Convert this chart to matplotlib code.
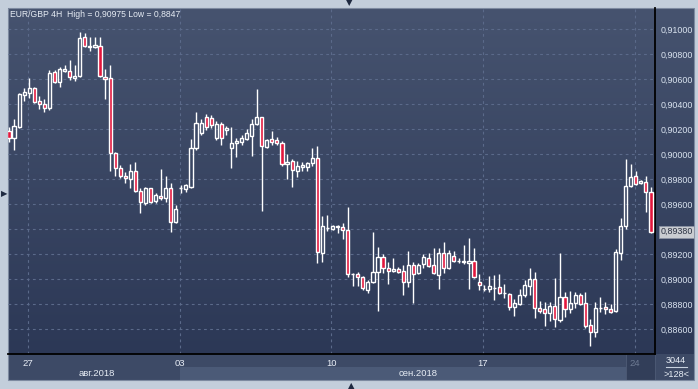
import numpy as np
import matplotlib
matplotlib.use("Agg")
import matplotlib.pyplot as plt
import matplotlib.transforms as mtransforms
from matplotlib.patches import Rectangle
from matplotlib.colors import LinearSegmentedColormap

plt.rcParams["font.family"] = ["Liberation Sans", "DejaVu Sans"]

# ---------------- data (EUR/GBP 4H candles) ----------------
opens = [
    0.90186, 0.90130, 0.90218, 0.90474, 0.90490, 0.90530, 0.90426, 0.90402, 0.90370, 0.90658,
    0.90578, 0.90666, 0.90666, 0.90610, 0.90626, 0.90938, 0.90866, 0.90858, 0.90866, 0.90618,
    0.90610, 0.90010, 0.89890, 0.89826, 0.89802, 0.89866, 0.89706, 0.89610, 0.89730, 0.89626,
    0.89666, 0.89650, 0.89730, 0.89458, 0.89730, 0.89722, 0.89738, 0.90050, 0.90170, 0.90298,
    0.90290, 0.90130, 0.90242, 0.90194, 0.90050, 0.90090, 0.90098, 0.90122, 0.90146, 0.90242,
    0.90298, 0.90058, 0.90122, 0.90114, 0.90090, 0.89922, 0.89946, 0.89866, 0.89898, 0.89898,
    0.89930, 0.89970, 0.89210, 0.89410, 0.89402, 0.89426, 0.89418, 0.89394, 0.89042, 0.89042,
    0.89018, 0.88914, 0.88978, 0.89058, 0.89178, 0.89090, 0.89066, 0.89082, 0.89066, 0.88978,
    0.89114, 0.89050, 0.89122, 0.89170, 0.89114, 0.89034, 0.89210, 0.89090, 0.89186, 0.89146,
    0.89146, 0.89130, 0.89146, 0.88978, 0.88922, 0.88922, 0.88930, 0.88938, 0.88890, 0.88882,
    0.88778, 0.88802, 0.88874, 0.88946, 0.89002, 0.88770, 0.88762, 0.88730, 0.88786, 0.88674,
    0.88858, 0.88762, 0.88810, 0.88874, 0.88810, 0.88634, 0.88578, 0.88770, 0.88778, 0.88762,
    0.88746, 0.89210, 0.89426, 0.89746, 0.89826, 0.89770, 0.89778, 0.89698]
closes = [
    0.90130, 0.90226, 0.90482, 0.90498, 0.90530, 0.90418, 0.90402, 0.90370, 0.90650, 0.90578,
    0.90682, 0.90682, 0.90618, 0.90626, 0.90930, 0.90866, 0.90862, 0.90874, 0.90626, 0.90602,
    0.90010, 0.89890, 0.89826, 0.89810, 0.89866, 0.89706, 0.89618, 0.89730, 0.89618, 0.89674,
    0.89650, 0.89730, 0.89458, 0.89562, 0.89732, 0.89754, 0.90050, 0.90250, 0.90250, 0.90218,
    0.90234, 0.90242, 0.90130, 0.90210, 0.90090, 0.90106, 0.90130, 0.90170, 0.90242, 0.90298,
    0.90066, 0.90114, 0.90098, 0.90090, 0.89922, 0.89938, 0.89874, 0.89906, 0.89914, 0.89930,
    0.89970, 0.89218, 0.89426, 0.89412, 0.89426, 0.89422, 0.89394, 0.89042, 0.89040, 0.89018,
    0.88930, 0.88978, 0.89058, 0.89178, 0.89090, 0.89066, 0.89082, 0.89058, 0.88978, 0.89114,
    0.89042, 0.89114, 0.89178, 0.89106, 0.89050, 0.89210, 0.89090, 0.89210, 0.89146, 0.89144,
    0.89138, 0.89146, 0.89018, 0.88954, 0.88920, 0.88946, 0.88928, 0.88890, 0.88888, 0.88778,
    0.88810, 0.88874, 0.88954, 0.89002, 0.88770, 0.88746, 0.88730, 0.88786, 0.88682, 0.88858,
    0.88762, 0.88810, 0.88874, 0.88802, 0.88626, 0.88578, 0.88770, 0.88774, 0.88762, 0.88738,
    0.89218, 0.89426, 0.89746, 0.89818, 0.89762, 0.89786, 0.89698, 0.89380]
highs = [
    0.90218, 0.90282, 0.90490, 0.90530, 0.90610, 0.90538, 0.90466, 0.90442, 0.90674, 0.90674,
    0.90698, 0.90714, 0.90754, 0.90714, 0.90975, 0.90970, 0.90938, 0.90938, 0.90938, 0.90682,
    0.90714, 0.90018, 0.89914, 0.89858, 0.89922, 0.89938, 0.89730, 0.89738, 0.89734, 0.89690,
    0.89882, 0.89826, 0.89770, 0.89594, 0.89754, 0.89762, 0.90122, 0.90338, 0.90282, 0.90322,
    0.90314, 0.90266, 0.90258, 0.90226, 0.90218, 0.90130, 0.90154, 0.90202, 0.90282, 0.90522,
    0.90300, 0.90122, 0.90186, 0.90138, 0.90106, 0.90002, 0.89962, 0.89946, 0.89938, 0.89938,
    0.90050, 0.90066, 0.89506, 0.89514, 0.89434, 0.89434, 0.89450, 0.89578, 0.89050, 0.89058,
    0.89026, 0.88994, 0.89378, 0.89258, 0.89202, 0.89138, 0.89170, 0.89098, 0.89114, 0.89226,
    0.89138, 0.89130, 0.89202, 0.89210, 0.89250, 0.89250, 0.89298, 0.89234, 0.89226, 0.89170,
    0.89274, 0.89330, 0.89250, 0.89042, 0.88954, 0.89026, 0.89034, 0.89042, 0.88962, 0.88890,
    0.88842, 0.88922, 0.88994, 0.89090, 0.89058, 0.88826, 0.88818, 0.88818, 0.89010, 0.89210,
    0.88898, 0.88906, 0.88898, 0.88890, 0.88898, 0.88682, 0.88818, 0.88858, 0.88818, 0.88802,
    0.89242, 0.89490, 0.89962, 0.89922, 0.89866, 0.89794, 0.89826, 0.89738]
lows = [
    0.90098, 0.90034, 0.90210, 0.90426, 0.90450, 0.90410, 0.90362, 0.90338, 0.90354, 0.90570,
    0.90538, 0.90658, 0.90594, 0.90586, 0.90618, 0.90858, 0.90826, 0.90854, 0.90618, 0.90442,
    0.89866, 0.89826, 0.89810, 0.89770, 0.89730, 0.89698, 0.89530, 0.89594, 0.89610, 0.89610,
    0.89634, 0.89618, 0.89378, 0.89450, 0.89690, 0.89698, 0.89734, 0.90034, 0.90154, 0.90194,
    0.90210, 0.90114, 0.90074, 0.90154, 0.89890, 0.89978, 0.90074, 0.90114, 0.89986, 0.90234,
    0.89546, 0.90050, 0.90074, 0.90074, 0.89906, 0.89802, 0.89738, 0.89818, 0.89866, 0.89866,
    0.89906, 0.89130, 0.89138, 0.89386, 0.89394, 0.89370, 0.89322, 0.89018, 0.88946, 0.88946,
    0.88914, 0.88890, 0.88974, 0.88746, 0.89050, 0.88962, 0.89058, 0.89050, 0.88874, 0.88938,
    0.88810, 0.89042, 0.89090, 0.89098, 0.89042, 0.88922, 0.89050, 0.89082, 0.89138, 0.89130,
    0.89122, 0.88922, 0.89014, 0.88914, 0.88906, 0.88898, 0.88834, 0.88882, 0.88850, 0.88754,
    0.88706, 0.88794, 0.88858, 0.88874, 0.88690, 0.88730, 0.88626, 0.88666, 0.88618, 0.88658,
    0.88698, 0.88730, 0.88770, 0.88794, 0.88610, 0.88470, 0.88538, 0.88738, 0.88722, 0.88734,
    0.88738, 0.89154, 0.89402, 0.89738, 0.89754, 0.89762, 0.89538, 0.89370]

date_tick_pos = [3.76, 33.76, 63.76, 93.76, 123.76]
date_tick_labels = ["27", "03", "10", "17", "24"]
month_labels = ["авг.2018", "сен.2018"]
price_ticks = [0.886, 0.888, 0.890, 0.892, 0.894, 0.896, 0.898, 0.900,
               0.902, 0.904, 0.906, 0.908, 0.910]
title_text = "EUR/GBP 4H  High = 0,90975 Low = 0,8847"
last_price = 0.89380

# ---------------- figure ----------------
W, H = 698, 389
fig = plt.figure(figsize=(W / 100, H / 100), dpi=100)
fig.patch.set_facecolor("#c3cedb")

def px_rect(x0, y0, x1, y1):
    return [x0 / W, 1 - y1 / H, (x1 - x0) / W, (y1 - y0) / H]

# decoration layer in pixel coordinates
deco = fig.add_axes([0, 0, 1, 1], zorder=0)
deco.set_xlim(0, W)
deco.set_ylim(H, 0)
deco.axis("off")

cmap = LinearSegmentedColormap.from_list("bg", ["#46536f", "#2c3856"])
grad = np.linspace(0, 1, 256).reshape(-1, 1)
deco.imshow(grad, cmap=cmap, extent=[8, 694, 354, 8], aspect="auto", zorder=0)

# date band and month band
deco.add_patch(Rectangle((8, 354), 686, 26, facecolor="#3d4a66", edgecolor="none", zorder=1))
deco.add_patch(Rectangle((180, 367), 446, 13, facecolor="#4b5a77", edgecolor="none", zorder=1))
deco.add_patch(Rectangle((626, 354), 29, 26, facecolor="#323e59", edgecolor="#4e5b76", lw=0.6, zorder=1.2))
# right-bottom box
deco.add_patch(Rectangle((656, 354), 38, 26, facecolor="#3d4a66", edgecolor="none", zorder=1))
deco.plot([666, 687], [367, 367], color="#c8d2e0", lw=0.8, zorder=2)
deco.text(676, 360.5, "3044", color="#e8eef6", fontsize=6.6, ha="center", va="center", zorder=3)
deco.text(676, 374.5, ">128<", color="#e8eef6", fontsize=6.6, ha="center", va="center", zorder=3)
# outer border
deco.add_patch(Rectangle((8, 8), 686, 372, facecolor="none", edgecolor="#7d8aa0", lw=0.8, zorder=2))
# month labels
deco.text(97, 373.5, month_labels[0], color="#e8eef6", fontsize=6.8, ha="center", va="center", zorder=3)
deco.text(418, 373.5, month_labels[1], color="#e8eef6", fontsize=6.8, ha="center", va="center", zorder=3)
# navigation arrows
deco.text(349, 3, "\u25BC", color="#1e2940", fontsize=6, ha="center", va="center", zorder=3,
          family="DejaVu Sans")
deco.text(351, 386, "\u25B2", color="#1e2940", fontsize=6, ha="center", va="center", zorder=3,
          family="DejaVu Sans")
deco.text(4, 194, "\u25B6", color="#1e2940", fontsize=6, ha="center", va="center", zorder=3,
          family="DejaVu Sans")

# ---------------- main axes ----------------
ax = fig.add_axes(px_rect(8, 8, 655, 354), zorder=2)
ax.set_facecolor("none")
x = np.arange(len(opens))
o = np.array(opens); c = np.array(closes); h = np.array(highs); l = np.array(lows)
top = np.maximum(o, c); bot = np.minimum(o, c)
up = c >= o

ax.vlines(x, top, h, color="white", lw=1.0, zorder=3)
ax.vlines(x, l, bot, color="white", lw=1.0, zorder=3)
bw = 0.62
ax.bar(x[up], (top - bot)[up], bottom=bot[up], width=bw, facecolor="none",
       edgecolor="white", linewidth=1.0, zorder=4)
ax.bar(x[~up], (top - bot)[~up], bottom=bot[~up], width=bw, facecolor="#e3163c",
       edgecolor="white", linewidth=1.0, zorder=4)

ax.set_xlim(-0.2, 127.8)
ax.set_ylim(0.884024, 0.911704)

# grid
for p in price_ticks:
    ax.axhline(p, color="#5b6a8a", lw=0.8, ls=(0, (2.5, 3)), zorder=1)
for t in date_tick_pos:
    ax.axvline(t, color="#5b6a8a", lw=0.8, ls=(0, (2.5, 3)), zorder=1)

for s in ["top", "left"]:
    ax.spines[s].set_visible(False)
ax.spines["right"].set_color("black")
ax.spines["right"].set_linewidth(1.3)
ax.spines["bottom"].set_color("black")
ax.spines["bottom"].set_linewidth(1.3)

ax.yaxis.tick_right()
ax.set_yticks(price_ticks)
ax.set_yticklabels([("%.5f" % p).replace(".", ",") if abs(p - 0.894) > 1e-9 else ""
                    for p in price_ticks])
ax.tick_params(axis="y", length=0, pad=4, labelsize=6.4, labelcolor="#dbe4f0")
ax.set_xticks(date_tick_pos)
ax.set_xticklabels(date_tick_labels)
ax.tick_params(axis="x", length=0, pad=3.5, labelsize=6.8, labelcolor="#e8eef6")
ax.get_xticklabels()[-1].set_color("#6e7b93")

# last price label
trans = mtransforms.blended_transform_factory(ax.transAxes, ax.transData)
ax.text(1.0085, last_price, ("%.5f" % last_price).replace(".", ","), transform=trans,
        ha="left", va="center", fontsize=6.4, color="#2a3142",
        bbox=dict(boxstyle="square,pad=0.15", facecolor="#c9ccd1", edgecolor="#8a93a3", lw=0.6),
        zorder=6, clip_on=False)

ax.text(0.003, 0.982, title_text, transform=ax.transAxes, ha="left", va="center",
        fontsize=6.2, color="#e6ecf4", zorder=6)

fig.savefig("out.png", dpi=100, facecolor=fig.get_facecolor())
